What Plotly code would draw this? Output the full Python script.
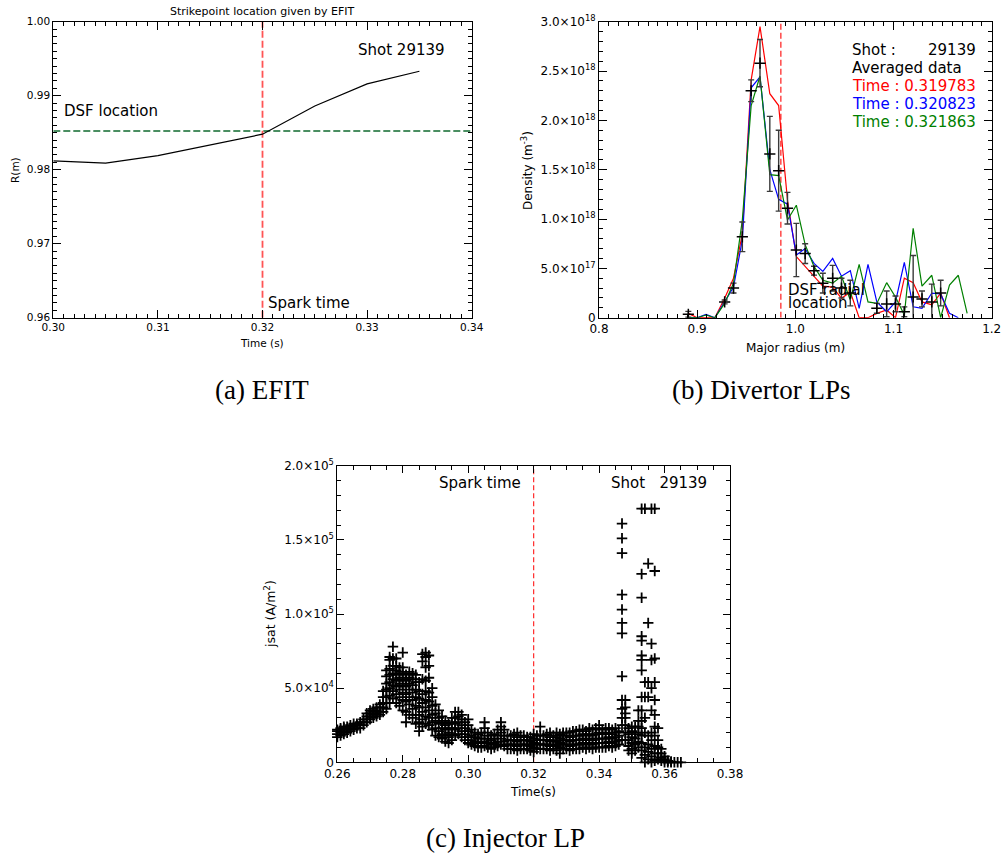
import plotly.graph_objects as go

W, H = 1008, 856

# ---------------- Panel (a): EFIT strike point ----------------
efit_time = [0.300, 0.305, 0.310, 0.315, 0.320, 0.325, 0.330, 0.335]
efit_R = [0.9812, 0.9809, 0.9819, 0.9833, 0.9848, 0.9886, 0.9916, 0.9933]
spark_time = 0.32
dsf_R = 0.98523

# ---------------- Panel (b): divertor LPs (density in 1e18 m^-3) ----------------
R_grid = [0.891, 0.900, 0.909, 0.918, 0.928, 0.937, 0.946, 0.955, 0.964, 0.974,
          0.983, 0.992, 1.001, 1.010, 1.019, 1.028, 1.038, 1.047, 1.056, 1.065,
          1.074, 1.083, 1.093, 1.102, 1.111, 1.120, 1.129, 1.139, 1.148, 1.157,
          1.166, 1.175]
dens_t1 = [0.044, 0, 0, 0, 0.196, 0.40, 0.85, 2.41, 2.95, 2.27, 2.15, 1.19, 0.62,
           0.52, 0.42, 0.32, 0.31, 0.196, 0.26, 0, 0, 0.044, 0.078, 0, 0.40, 0.355,
           0.16, 0.13, 0.25, 0]
dens_t2 = [0, 0, 0.034, 0, 0.16, 0.31, 0.79, 2.33, 2.44, 1.50, 1.20, 1.15, 0.635,
           0.70, 0.55, 0.47, 0.60, 0.42, 0.476, 0.095, 0.54, 0.16, 0.06, 0.16, 0.56,
           0.11, 0.095, 0.25, 0.24, 0.044, 0]
dens_t3 = [0, 0, 0.027, 0, 0.145, 0.35, 0.99, 2.15, 2.45, 1.45, 1.44, 0.99, 1.14,
           0.74, 0.52, 0.38, 0.35, 0.42, 0.18, 0.54, 0.16, 0.145, 0.355, 0.21, 0.027,
           0.905, 0.32, 0.43, 0, 0.33, 0.43, 0.044]
avg_R = [0.891, 0.928, 0.937, 0.946, 0.955, 0.964, 0.974, 0.983, 0.992, 1.001,
         1.010, 1.019, 1.028, 1.038, 1.047, 1.056, 1.083, 1.093, 1.102, 1.111,
         1.120, 1.129, 1.139, 1.148]
avg_n = [0.034, 0.16, 0.30, 0.82, 2.30, 2.58, 1.66, 1.49, 1.11, 0.686, 0.65, 0.476,
         0.35, 0.40, 0.30, 0.25, 0.095, 0.14, 0.14, 0.06, 0.21, 0.19, 0.16, 0.25]
avg_err = [0.03, 0.02, 0.05, 0.15, 0.11, 0.24, 0.38, 0.41, 0.16, 0.27, 0.10, 0.045,
           0.10, 0.13, 0.10, 0.13, 0.05, 0.13, 0.08, 0.05, 0.42, 0.08, 0.18, 0.13]
time_labels = ["Time : 0.319783", "Time : 0.320823", "Time : 0.321863"]

# ---------------- Panel (c): injector LP jsat (1e4 A/m^2) ----------------
jsat_times = [0.260, 0.261, 0.262, 0.263, 0.264, 0.265, 0.266, 0.267, 0.268, 0.269,
              0.270, 0.271, 0.272, 0.273, 0.274, 0.275, 0.276, 0.277, 0.278, 0.279,
              0.280, 0.281, 0.282, 0.283, 0.284, 0.285, 0.286, 0.287, 0.288, 0.289,
              0.290, 0.291, 0.292, 0.293, 0.294, 0.295, 0.296, 0.297, 0.298, 0.299,
              0.300, 0.301, 0.302, 0.303, 0.304, 0.305, 0.306, 0.307, 0.308, 0.309,
              0.310, 0.311, 0.312, 0.313, 0.314, 0.315, 0.316, 0.317, 0.318, 0.319,
              0.320, 0.321, 0.322, 0.323, 0.324, 0.325, 0.326, 0.327, 0.328, 0.329,
              0.330, 0.331, 0.332, 0.333, 0.334, 0.335, 0.336, 0.337, 0.338, 0.339,
              0.340, 0.341, 0.342, 0.343, 0.344, 0.345, 0.346, 0.347, 0.348, 0.349,
              0.350, 0.351, 0.352, 0.353, 0.354, 0.355, 0.356, 0.357, 0.358, 0.359,
              0.360, 0.361, 0.362, 0.363, 0.364, 0.365]
jsat_cols = [
    [1.7, 1.9, 2.1, 2.2], [1.8, 2.0, 2.2, 2.3], [1.9, 2.1, 2.3, 2.4], [2.0, 2.2, 2.4],
    [2.1, 2.3, 2.5], [2.2, 2.4, 2.6], [2.3, 2.5, 2.6], [2.3, 2.5, 2.7],
    [2.5, 2.7, 2.9], [2.7, 2.9, 3.1, 3.3],
    [2.9, 3.1, 3.3, 3.5], [3.0, 3.2, 3.4, 3.6], [3.1, 3.3, 3.5, 3.7], [3.2, 3.4, 3.7, 3.9],
    [3.4, 3.7, 4.0, 4.4, 4.8], [3.6, 4.0, 4.4, 4.9, 5.3, 5.8, 6.2],
    [4.0, 4.5, 5.0, 5.4, 5.9, 6.3, 6.9, 7.1], [4.3, 4.8, 5.2, 5.6, 6.0, 6.5, 7.0, 7.8],
    [4.0, 4.6, 5.1, 5.5, 5.9, 6.2, 6.5, 7.0], [3.8, 4.4, 4.9, 5.3, 5.7, 6.1, 6.4],
    [3.5, 4.2, 4.7, 5.2, 5.6, 6.0, 6.4, 7.4], [2.7, 3.4, 4.1, 4.6, 5.1, 5.5, 5.9],
    [3.2, 3.9, 4.4, 4.9, 5.3, 5.7, 6.1], [3.0, 3.6, 4.2, 4.7, 5.2, 5.6, 6.0],
    [2.6, 3.2, 3.8, 4.4, 4.9, 5.4, 5.9], [2.1, 2.7, 3.2, 3.7, 4.3, 4.8, 5.4],
    [2.4, 2.9, 3.4, 4.0, 4.6, 5.6, 6.8, 7.3], [2.6, 3.1, 3.7, 4.2, 4.8, 5.5, 6.4, 7.1, 7.4],
    [2.5, 3.0, 3.5, 4.1, 4.7, 5.7, 6.5, 7.2], [2.2, 2.7, 3.2, 3.8, 4.4, 5.0],
    [1.8, 2.3, 2.8, 3.3, 3.9], [1.7, 2.1, 2.6, 3.0, 3.5], [1.6, 1.9, 2.3, 2.7, 3.1],
    [1.4, 1.8, 2.2, 2.5, 2.8], [1.3, 1.7, 2.0, 2.3, 2.6], [1.5, 1.9, 2.3, 2.7, 3.0],
    [1.8, 2.2, 2.6, 3.0, 3.4], [1.9, 2.3, 2.7, 3.1, 3.4], [1.7, 2.1, 2.5, 2.9, 3.2],
    [1.5, 1.9, 2.3, 2.7],
    [1.3, 1.7, 2.1, 2.5, 2.9], [1.2, 1.5, 1.8, 2.2], [1.1, 1.4, 1.7, 2.0], [1.0, 1.3, 1.6, 1.9],
    [1.0, 1.3, 1.6, 2.0], [1.1, 1.4, 1.8, 2.3, 2.7], [1.0, 1.3, 1.6, 2.0], [0.9, 1.2, 1.5, 1.8],
    [1.0, 1.3, 1.6, 1.9], [1.1, 1.4, 1.8, 2.2],
    [1.2, 1.6, 2.0, 2.4, 2.7], [1.1, 1.4, 1.8, 2.2], [0.9, 1.2, 1.5, 1.8], [0.9, 1.2, 1.5, 1.8],
    [0.9, 1.2, 1.5, 1.9], [0.8, 1.1, 1.4, 1.7, 2.0], [0.9, 1.2, 1.5, 1.8], [0.9, 1.2, 1.5, 1.8],
    [0.9, 1.2, 1.5, 1.7], [0.8, 1.1, 1.4, 1.7],
    [0.7, 1.0, 1.3, 1.6, 1.9], [0.9, 1.2, 1.5, 1.8], [0.9, 1.2, 1.5, 1.8, 2.4], [0.9, 1.2, 1.5, 1.8],
    [0.9, 1.2, 1.5, 1.9], [0.8, 1.1, 1.4, 1.7, 2.0], [0.9, 1.2, 1.5, 1.8], [0.8, 1.1, 1.4, 1.7, 2.0],
    [0.6, 1.0, 1.3, 1.6, 1.9], [0.9, 1.2, 1.5, 1.8, 2.0],
    [0.9, 1.2, 1.5, 1.8, 2.0], [0.8, 1.1, 1.4, 1.7, 2.0], [0.9, 1.2, 1.5, 1.8, 2.1],
    [0.9, 1.2, 1.5, 1.8, 2.1], [0.9, 1.2, 1.5, 1.8, 2.2], [1.0, 1.3, 1.6, 1.9, 2.2],
    [0.9, 1.2, 1.5, 1.8, 2.1], [1.0, 1.3, 1.6, 1.9, 2.3], [0.9, 1.2, 1.5, 1.8, 2.2],
    [1.0, 1.3, 1.6, 1.9, 2.3],
    [1.0, 1.3, 1.6, 2.0, 2.5], [1.0, 1.3, 1.6, 1.9, 2.2], [1.0, 1.3, 1.6, 1.9, 2.3],
    [1.1, 1.4, 1.7, 2.0, 2.3], [1.0, 1.3, 1.6, 1.9, 2.2], [1.1, 1.4, 1.7, 2.0, 2.3],
    [1.2, 1.5, 1.8, 2.1],
    [1.5, 2.5, 3.0, 3.6, 4.2, 5.8, 8.7, 9.4, 10.3, 11.3, 14.1, 15.1, 16.1],
    [1.5, 2.0, 2.5, 3.0, 3.3, 3.7, 4.2], [0.8, 1.1, 1.5, 1.9, 2.3],
    [0.6, 0.9, 1.3, 1.7, 2.1, 2.4], [0.8, 1.2, 1.6, 2.0, 2.4], [1.0, 1.4, 1.9, 2.4, 2.8, 3.5],
    [0.3, 0.8, 1.3, 1.8, 2.3, 2.8, 3.5, 4.4, 6.2, 6.9, 7.2, 8.2, 8.5, 11.1, 12.7, 17.1],
    [0.0, 0.5, 1.0, 2.0, 3.0, 4.4, 5.4, 17.1],
    [0.2, 0.7, 1.2, 1.8, 4.4, 5.4, 9.4, 13.4],
    [0.0, 0.4, 0.9, 1.5, 2.0, 3.5, 5.0, 6.9, 8.0, 17.1],
    [0.1, 0.6, 1.1, 1.8, 2.4, 3.2, 4.2, 5.4, 7.0, 12.9, 17.1],
    [0.2, 0.6, 1.0, 1.5, 2.3], [0.1, 0.3, 0.6, 0.9],
    [0.0, 0.2, 0.4], [0.0, 0.1], [0.0, 0.05], [0.0], [0.0], [0.0],
]

jx, jy = [], []
for t, vals in zip(jsat_times, jsat_cols):
    for v in vals:
        jx.append(t)
        jy.append(v)

FONT = "DejaVu Sans"
fig = go.Figure()

# ---- Panel a traces
fig.add_trace(go.Scatter(x=[0.30, 0.34], y=[dsf_R, dsf_R], mode="lines",
                         line=dict(color="#0f6a2e", width=1.3, dash="7px,3px"),
                         xaxis="x", yaxis="y", showlegend=False))
fig.add_trace(go.Scatter(x=[spark_time, spark_time], y=[0.96, 1.00], mode="lines",
                         line=dict(color="#ff5555", width=1.8, dash="7px,3px"),
                         xaxis="x", yaxis="y", showlegend=False))
fig.add_trace(go.Scatter(x=efit_time, y=efit_R, mode="lines",
                         line=dict(color="black", width=1.2),
                         xaxis="x", yaxis="y", showlegend=False))

# ---- Panel b traces
fig.add_trace(go.Scatter(x=[dsf_R, dsf_R], y=[0, 3.0], mode="lines",
                         line=dict(color="#ff2a2a", width=1.3, dash="6px,3px"),
                         xaxis="x2", yaxis="y2", showlegend=False))
for vals, col in [(dens_t1, "#ff0000"), (dens_t2, "#0000ff"), (dens_t3, "#008000")]:
    fig.add_trace(go.Scatter(x=R_grid[:len(vals)], y=vals, mode="lines",
                             line=dict(color=col, width=1.2),
                             xaxis="x2", yaxis="y2", showlegend=False))
fig.add_trace(go.Scatter(x=avg_R, y=avg_n, mode="markers",
                         marker=dict(symbol="cross-thin", size=8, color="black",
                                     line=dict(width=1.5, color="black")),
                         error_y=dict(type="data", array=avg_err, color="#3a3a3a",
                                      thickness=1.4, width=3),
                         xaxis="x2", yaxis="y2", showlegend=False))

# ---- Panel c traces
fig.add_trace(go.Scatter(x=[spark_time, spark_time], y=[0, 20], mode="lines",
                         line=dict(color="#ff2a2a", width=1.2, dash="5px,3px"),
                         xaxis="x3", yaxis="y3", showlegend=False))
fig.add_trace(go.Scatter(x=jx, y=jy, mode="markers", cliponaxis=False,
                         marker=dict(symbol="cross-thin", size=7.5, color="black",
                                     line=dict(width=1.8, color="black")),
                         xaxis="x3", yaxis="y3", showlegend=False))


def ax(domain, rng, anchor, dtick=None, minor_dtick=None, fmt=None, fsize=11,
       ticklen=8, minorlen=4, tick0=None, **kw):
    d = dict(domain=domain, range=rng, anchor=anchor, showline=True, linecolor="black",
             linewidth=1, mirror="ticks", ticks="inside", tickcolor="black",
             ticklen=ticklen, tickwidth=1, showgrid=False, zeroline=False,
             automargin=False,
             tickfont=dict(family=FONT, size=fsize, color="black"),
             minor=dict(ticks="inside", ticklen=minorlen, tickcolor="black",
                        tickwidth=1, dtick=minor_dtick, tickmode="linear",
                        tick0=rng[0], showgrid=False))
    if dtick is not None:
        d.update(dtick=dtick, tick0=rng[0] if tick0 is None else tick0, tickmode="linear")
    if fmt:
        d["tickformat"] = fmt
    d.update(kw)
    return d


ya_dom = [1 - 317.7 / H, 1 - 21.7 / H]
yc_dom = [1 - 762.3 / H, 1 - 465.7 / H]

fig.update_layout(
    width=W, height=H, margin=dict(l=0, r=0, t=0, b=0, autoexpand=False),
    paper_bgcolor="white", plot_bgcolor="white", showlegend=False,
    xaxis=ax([53.3 / W, 471.7 / W], [0.30, 0.34], "y", 0.01, 0.001, ".2f", 10.5),
    yaxis=ax(ya_dom, [0.96, 1.00], "x", 0.01, 0.001, ".2f", 10.5),
    xaxis2=ax([599 / W, 991.7 / W], [0.8, 1.2], "y2", 0.1, 0.01, ".1f", 12),
    yaxis2=ax(ya_dom, [0, 3.0], "x2", None, 0.1, None, 12,
              tickmode="array", tickvals=[0, 0.5, 1.0, 1.5, 2.0, 2.5, 3.0],
              ticktext=["0", "5.0×10<sup>17</sup>", "1.0×10<sup>18</sup>",
                        "1.5×10<sup>18</sup>", "2.0×10<sup>18</sup>",
                        "2.5×10<sup>18</sup>", "3.0×10<sup>18</sup>"]),
    xaxis3=ax([337.3 / W, 730 / W], [0.26, 0.38], "y3", 0.02, 0.005, ".2f", 12,
              ticklen=7, minorlen=4),
    yaxis3=ax(yc_dom, [0, 20], "x3", None, 1, None, 12, ticklen=7, minorlen=4,
              tickmode="array", tickvals=[0, 5, 10, 15, 20],
              ticktext=["0", "5.0×10<sup>4</sup>", "1.0×10<sup>5</sup>",
                        "1.5×10<sup>5</sup>", "2.0×10<sup>5</sup>"]),
)

ann = []


def txt(text, x, y, xref, yref, size=15, xanchor="left", color="black",
        family=FONT, angle=0):
    ann.append(dict(text=text, x=x, y=y, xref=xref, yref=yref, showarrow=False,
                    xanchor=xanchor, yanchor="middle", textangle=angle,
                    font=dict(family=family, size=size, color=color)))


# Panel a texts
txt("Strikepoint location given by EFIT", 262 / W, 1 - 12 / H, "paper", "paper", 11,
    "center")
txt("Shot 29139", 0.3289, 0.99618, "x", "y", 15)
txt("DSF location", 0.30083, 0.98793, "x", "y", 15)
txt("Spark time", 0.32033, 0.96199, "x", "y", 15)
txt("Time (s)", 262 / W, 1 - 343 / H, "paper", "paper", 10.5, "center")
txt("R(m)", 15 / W, 1 - 170 / H, "paper", "paper", 10.5, "center", angle=-90)

# Panel b texts
txt("Shot :", 1.0557, 2.713, "x2", "y2", 15)
txt("29139", 1.186, 2.713, "x2", "y2", 15, "right")
txt("Averaged data", 1.0557, 2.528, "x2", "y2", 15)
for lab, yv, col in zip(time_labels, [2.348, 2.166, 1.986],
                        ["#ff0000", "#0000ff", "#008000"]):
    txt(lab, 1.0557, yv, "x2", "y2", 15, color=col)
txt("DSF radial", 0.9905, 0.281, "x2", "y2", 15)
txt("location", 0.9905, 0.149, "x2", "y2", 15)
txt("Major radius (m)", 795 / W, 1 - 348 / H, "paper", "paper", 12, "center")
txt("Density (m<sup>-3</sup>)", 527 / W, 1 - 171 / H, "paper", "paper", 12, "center",
    angle=-90)

# Panel c texts
txt("Spark time", 0.31675, 18.81, "x3", "y3", 15, "right")
txt("Shot\u00a0\u00a0\u00a029139", 0.3430, 18.81, "x3", "y3", 15)
txt("Time(s)", 533 / W, 1 - 792 / H, "paper", "paper", 12, "center")
txt("jsat (A/m<sup>2</sup>)", 270 / W, 1 - 614 / H, "paper", "paper", 12.5, "center",
    angle=-90)

# Captions
SERIF = "Liberation Serif"
txt("(a) EFIT", 262 / W, 1 - 390 / H, "paper", "paper", 27, "center", family=SERIF)
txt("(b) Divertor LPs", 761 / W, 1 - 390 / H, "paper", "paper", 27, "center",
    family=SERIF)
txt("(c) Injector LP", 505 / W, 1 - 838 / H, "paper", "paper", 27, "center",
    family=SERIF)

fig.update_layout(annotations=ann)
fig.write_html("out.html")
